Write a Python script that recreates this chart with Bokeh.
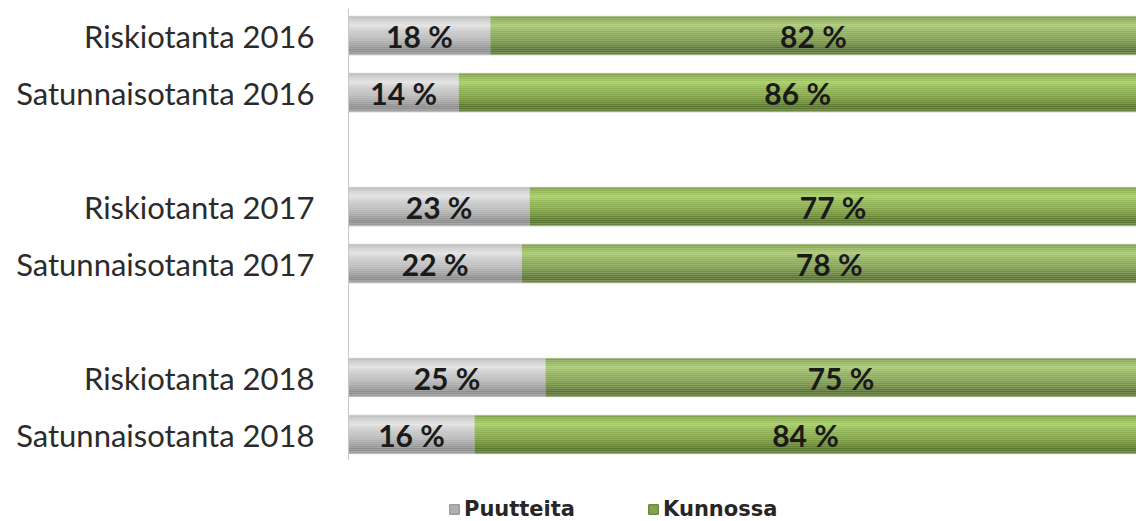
from bokeh.plotting import figure
from bokeh.layouts import column
from bokeh.models import Range1d, FixedTicker, Legend, LegendItem, ColumnDataSource
from bokeh.core.properties import value
from bokeh.embed import file_html
from bokeh.resources import INLINE

categories = ["Riskiotanta 2016", "Satunnaisotanta 2016", "Riskiotanta 2017",
              "Satunnaisotanta 2017", "Riskiotanta 2018", "Satunnaisotanta 2018"]
slots = [0, 1, 3, 4, 6, 7]
puutteita = [18, 14, 23, 22, 25, 16]
kunnossa = [82, 86, 77, 78, 75, 84]
series_names = ["Puutteita", "Kunnossa"]

FONT = "Lato"
BAR_H = 0.667
N_BANDS = 19

# shading stops (fraction of bar height from top, colour) for the bevelled look
GREY_STOPS = [(0.0, "#bababa"), (0.10, "#d2d2d2"), (0.24, "#e6e6e6"), (0.37, "#cfcfcf"),
              (0.58, "#bdbdbd"), (0.76, "#a2a2a2"), (0.90, "#888888"), (1.0, "#a6a6a6")]
GREEN_STOPS = [(0.0, "#7e9c47"), (0.10, "#92b459"), (0.24, "#abce6d"), (0.37, "#94b65b"),
               (0.58, "#84a44c"), (0.76, "#6b8838"), (0.90, "#536d2a"), (1.0, "#6f8a45")]


def shade(stops, t):
    for (t0, c0), (t1, c1) in zip(stops, stops[1:]):
        if t0 <= t <= t1:
            f = (t - t0) / (t1 - t0) if t1 > t0 else 0
            a = [int(c0[i:i + 2], 16) for i in (1, 3, 5)]
            b = [int(c1[i:i + 2], 16) for i in (1, 3, 5)]
            return "#%02x%02x%02x" % tuple(round(x + (y - x) * f) for x, y in zip(a, b))
    return stops[-1][1]


p = figure(width=1136, height=460, output_backend="svg", toolbar_location=None,
           x_range=Range1d(0, 100), y_range=Range1d(7.456, -0.474),
           min_border_left=348, min_border_right=0, min_border_top=8, min_border_bottom=0,
           x_axis_location=None)
p.xgrid.visible = False
p.ygrid.visible = False
p.outline_line_color = None

src = ColumnDataSource(dict(
    y=slots,
    p_left=[0] * len(slots),
    p_right=puutteita,
    k_left=puutteita,
    k_right=[a + b for a, b in zip(puutteita, kunnossa)],
    p_mid=[v / 2 for v in puutteita],
    k_mid=[a + b / 2 for a, b in zip(puutteita, kunnossa)],
    p_lab=[f"{v} %" for v in puutteita],
    k_lab=[f"{v} %" for v in kunnossa],
))

# outer edge of each segment
p.hbar(y="y", left="p_left", right="p_right", height=BAR_H + 0.03, source=src,
       fill_color="#d9d9d9", line_color=None)
p.hbar(y="y", left="k_left", right="k_right", height=BAR_H + 0.03, source=src,
       fill_color="#d3dcc4", line_color=None)

bh = BAR_H / N_BANDS
for i in range(N_BANDS):
    t = (i + 0.5) / N_BANDS
    ys = [s - BAR_H / 2 + (i + 0.5) * bh for s in slots]
    p.hbar(y=ys, left=[0] * len(slots), right=puutteita, height=bh * 1.05,
           fill_color=shade(GREY_STOPS, t), line_color=None)
    p.hbar(y=ys, left=puutteita, right=src.data["k_right"], height=bh * 1.05,
           fill_color=shade(GREEN_STOPS, t), line_color=None)

for xcol, tcol in (("p_mid", "p_lab"), ("k_mid", "k_lab")):
    p.text(x=xcol, y="y", text=tcol, source=src, text_align="center",
           text_baseline="middle", text_font=value(FONT), text_font_style="bold",
           text_font_size="30px", text_color="#1a1a1a")

ax = p.yaxis[0]
ax.ticker = FixedTicker(ticks=slots)
ax.major_label_overrides = {s: c for s, c in zip(slots, categories)}
ax.major_label_text_font = FONT
ax.major_label_text_font_size = "31px"
ax.major_label_text_color = "#2b2b2b"
ax.major_tick_line_color = None
ax.minor_tick_line_color = None
ax.major_tick_out = 0
ax.major_tick_in = 0
ax.major_label_standoff = 34
ax.axis_line_color = "#c8c8c8"

# legend strip below the chart (frames are aligned by the column layout)
lg = figure(width=1136, height=61, output_backend="svg", toolbar_location=None,
            x_range=Range1d(0, 1), y_range=Range1d(0, 1),
            min_border_left=348, min_border_right=0, min_border_top=0, min_border_bottom=0,
            x_axis_location=None, y_axis_location=None)
lg.grid.visible = False
lg.outline_line_color = None
# legend-only proxies, placed outside the visible range
proxy = ColumnDataSource(dict(y=[-5], left=[-3], right=[-2]))
r_p = lg.hbar(y="y", left="left", right="right", height=1, source=proxy,
              fill_color="#b0b0b0", line_color="#888888")
r_k = lg.hbar(y="y", left="left", right="right", height=1, source=proxy,
              fill_color="#84a44c", line_color="#536d2a")
legend = Legend(items=[LegendItem(label=series_names[0], renderers=[r_p]),
                       LegendItem(label=series_names[1], renderers=[r_k])],
                orientation="horizontal", location=(100, 0), padding=0, margin=0,
                label_text_font="DejaVu Sans", label_text_font_style="bold",
                label_text_font_size="21px", label_text_color="#262626",
                glyph_width=12, glyph_height=12, spacing=72, label_standoff=4,
                border_line_color=None, background_fill_alpha=0)
lg.add_layout(legend, "center")

layout = column(p, lg, spacing=0)
open("out.html", "w").write(file_html(layout, INLINE))
